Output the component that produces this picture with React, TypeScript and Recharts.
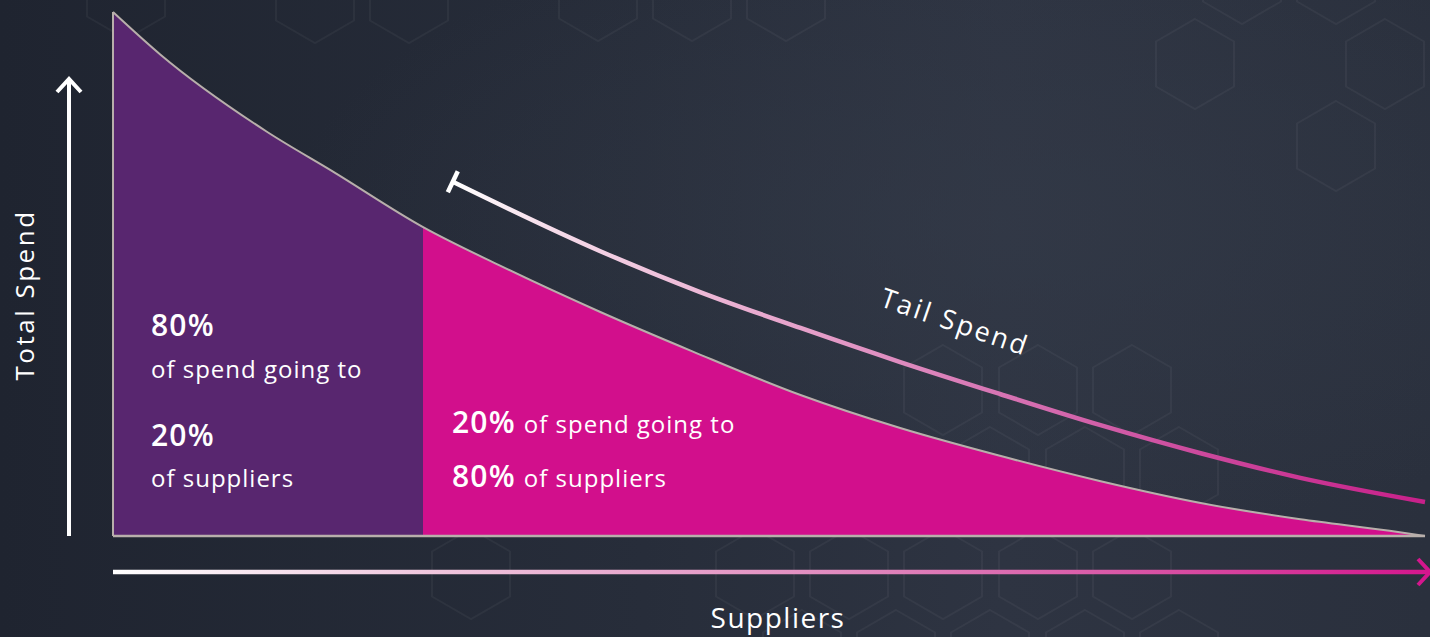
import React from "react";
import { ComposedChart, Area, Line, XAxis, YAxis, ReferenceLine } from "recharts";

// Supplier share (x, %) and total spend (y, % of max) along the Pareto curve
const spendX = [0, 3.6, 11.7, 16.8, 23.6, 29.5, 37.1, 44.2, 52.4, 60.0, 67.6, 75.2, 82.9, 90.5, 97.3, 100];
const spendY = [100, 91.9, 77.2, 69.5, 59.0, 51.6, 42.8, 35.2, 26.9, 20.6, 15.3, 10.5, 6.3, 3.2, 1.0, 0];

// Tail Spend indicator line
const tailX = [25.9, 37.1, 44.7, 52.4, 60.0, 67.6, 75.2, 82.9, 90.5, 100];
const tailY = [67.6, 54.4, 46.6, 39.7, 33.2, 27.1, 21.2, 15.8, 11.1, 6.5];

// Split between the "top 20%" block and the tail
const splitX = 23.6;

const labels = {
  yAxis: "Total Spend",
  xAxis: "Suppliers",
  tail: "Tail Spend",
  leftPct1: "80%",
  leftText1: "of spend going to",
  leftPct2: "20%",
  leftText2: "of suppliers",
  rightPct1: "20%",
  rightText1: "of spend going to",
  rightPct2: "80%",
  rightText2: "of suppliers",
};

const xs = Array.from(new Set([...spendX, ...tailX])).sort((a, b) => a - b);
const data = xs.map((x) => {
  const si = spendX.indexOf(x);
  const ti = tailX.indexOf(x);
  return { x, spend: si >= 0 ? spendY[si] : null, tail: ti >= 0 ? tailY[ti] : null };
});

const W = 1430;
const H = 637;
const FONT = "'Open Sans', 'Noto Sans', sans-serif";

function hexPoints(cx: number, cy: number, r: number) {
  const pts: string[] = [];
  for (let i = 0; i < 6; i++) {
    const a = ((-90 + 60 * i) * Math.PI) / 180;
    pts.push(`${(cx + r * Math.cos(a)).toFixed(1)},${(cy + r * Math.sin(a)).toFixed(1)}`);
  }
  return pts.join(" ");
}

const hexes: [number, number][] = [
  [126, -6], [315, -2], [409, -2], [598, -4], [692, -4], [786, -4],
  [1242, -21], [1336, -21], [1195, 64], [1385, 64], [1336, 146],
  [943, 390], [1038, 390], [1132, 390],
  [896, 472], [990, 472], [1085, 472], [1179, 472],
  [471, 574], [755, 574], [849, 574], [943, 574], [1038, 574], [1132, 574],
  [802, 655], [896, 655], [990, 655], [1085, 655], [1179, 655],
];

const TailCap = (props: any) => {
  const { cx, cy, payload, index } = props;
  if (!payload || payload.x !== tailX[0] || cx == null || cy == null) return <g key={`d${index}`} />;
  return (
    <line
      key={`d${index}`}
      x1={cx + 5}
      y1={cy - 10.5}
      x2={cx - 5}
      y2={cy + 10.5}
      stroke="#ffffff"
      strokeWidth={4.5}
    />
  );
};

const pctStyle = { fontSize: 30, fontWeight: 600, letterSpacing: 1.2 } as const;
const txtStyle = { fontSize: 24, letterSpacing: 1.0 } as const;

export default function App() {
  return (
    <div style={{ position: "fixed", left: 0, top: 0, width: W, height: H, overflow: "hidden", fontFamily: FONT }}>
      <svg width={W} height={H} style={{ position: "absolute", left: 0, top: 0 }}>
        <defs>
          <linearGradient id="bgGrad" x1="0" y1="0" x2="1" y2="0">
            <stop offset="0" stopColor="#1f2430" />
            <stop offset="0.45" stopColor="#272d3a" />
            <stop offset="0.7" stopColor="#2e3442" />
            <stop offset="1" stopColor="#2a303d" />
          </linearGradient>
          <radialGradient id="bgGlow" cx="0.7" cy="0.35" r="0.5">
            <stop offset="0" stopColor="#343b49" stopOpacity="0.6" />
            <stop offset="1" stopColor="#343b49" stopOpacity="0" />
          </radialGradient>
          <linearGradient id="splitFill" x1="0" y1="0" x2="1" y2="0">
            <stop offset="0" stopColor="#58266f" />
            <stop offset={splitX / 100} stopColor="#58266f" />
            <stop offset={splitX / 100} stopColor="#d20f8c" />
            <stop offset="1" stopColor="#d20f8c" />
          </linearGradient>
          <linearGradient id="tailGrad" x1="0" y1="0" x2="1" y2="0">
            <stop offset="0" stopColor="#ffffff" />
            <stop offset="0.1" stopColor="#f6dcea" />
            <stop offset="0.3" stopColor="#eaaed1" />
            <stop offset="0.55" stopColor="#d877b5" />
            <stop offset="0.78" stopColor="#cc479c" />
            <stop offset="1" stopColor="#c8208a" />
          </linearGradient>
          <linearGradient id="xArrowGrad" gradientUnits="userSpaceOnUse" x1="113" y1="0" x2="1430" y2="0">
            <stop offset="0" stopColor="#ffffff" />
            <stop offset="0.25" stopColor="#efc4dc" />
            <stop offset="0.55" stopColor="#e18bbf" />
            <stop offset="0.8" stopColor="#d84fa3" />
            <stop offset="1" stopColor="#d4168d" />
          </linearGradient>
        </defs>
        <rect x={0} y={0} width={W} height={H} fill="url(#bgGrad)" />
        <rect x={0} y={0} width={W} height={H} fill="url(#bgGlow)" />
        {hexes.map(([cx, cy], i) => (
          <polygon key={i} points={hexPoints(cx, cy, 45)} fill="none" stroke="#ffffff" strokeOpacity={0.045} strokeWidth={2} />
        ))}
      </svg>

      <div style={{ position: "absolute", left: 0, top: 0 }}>
        <ComposedChart width={W} height={H} data={data} margin={{ top: 12, right: 5, bottom: 101, left: 113 }}>
          <XAxis type="number" dataKey="x" domain={[0, 100]} hide />
          <YAxis type="number" domain={[0, 100]} hide />
          <Area
            type="monotone"
            dataKey="spend"
            fill="url(#splitFill)"
            fillOpacity={1}
            stroke="#b8afab"
            strokeWidth={2}
            connectNulls
            dot={false}
            activeDot={false}
            isAnimationActive={false}
          />
          <ReferenceLine y={0} stroke="#b8afab" strokeWidth={2.5} />
          <ReferenceLine x={0} stroke="#b8afab" strokeWidth={2} />
          <Line
            type="monotone"
            dataKey="tail"
            stroke="url(#tailGrad)"
            strokeWidth={4.5}
            connectNulls
            dot={TailCap}
            activeDot={false}
            isAnimationActive={false}
          />
        </ComposedChart>
      </div>

      <svg width={W} height={H} style={{ position: "absolute", left: 0, top: 0, pointerEvents: "none" }}>
        {/* Y axis arrow */}
        <line x1={69} y1={536} x2={69} y2={80} stroke="#ffffff" strokeWidth={4} />
        <polyline points="57,92 69,79 81,92" fill="none" stroke="#ffffff" strokeWidth={4} />
        {/* X axis arrow */}
        <line x1={113} y1={572} x2={1428} y2={572} stroke="url(#xArrowGrad)" strokeWidth={4.5} />
        <polyline points="1418,559 1430,572 1418,585" fill="none" stroke="#d4168d" strokeWidth={4} />

        <text
          transform="translate(34,295) rotate(-90)"
          textAnchor="middle"
          fill="#ffffff"
          fontSize={26}
          letterSpacing={2.5}
          fontFamily={FONT}
        >
          {labels.yAxis}
        </text>
        <text x={778} y={628} textAnchor="middle" fill="#ffffff" fontSize={28} letterSpacing={1.5} fontFamily={FONT}>
          {labels.xAxis}
        </text>
        <text
          transform="translate(952,331) rotate(19)"
          textAnchor="middle"
          fill="#ffffff"
          fontSize={27}
          letterSpacing={2.5}
          fontFamily={FONT}
        >
          {labels.tail}
        </text>

        <text x={151} y={336} fill="#ffffff" fontFamily={FONT} {...pctStyle}>
          {labels.leftPct1}
        </text>
        <text x={151} y={378} fill="#ffffff" fontFamily={FONT} {...txtStyle}>
          {labels.leftText1}
        </text>
        <text x={151} y={446} fill="#ffffff" fontFamily={FONT} {...pctStyle}>
          {labels.leftPct2}
        </text>
        <text x={151} y={487} fill="#ffffff" fontFamily={FONT} {...txtStyle}>
          {labels.leftText2}
        </text>

        <text x={452} y={433} fill="#ffffff" fontFamily={FONT}>
          <tspan {...pctStyle}>{labels.rightPct1}</tspan>
          <tspan {...txtStyle} dx={8}>{labels.rightText1}</tspan>
        </text>
        <text x={452} y={487} fill="#ffffff" fontFamily={FONT}>
          <tspan {...pctStyle}>{labels.rightPct2}</tspan>
          <tspan {...txtStyle} dx={8}>{labels.rightText2}</tspan>
        </text>
      </svg>
    </div>
  );
}
